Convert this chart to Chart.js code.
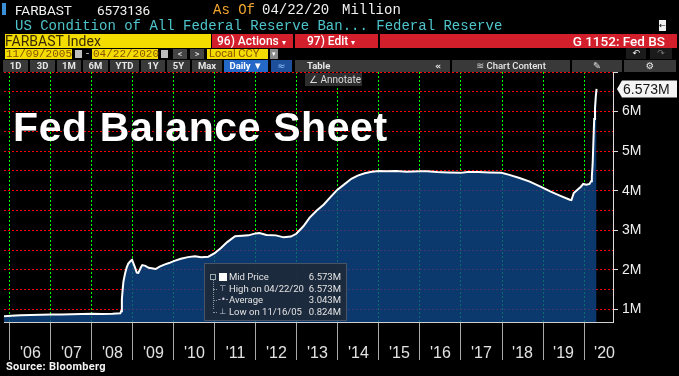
<!DOCTYPE html>
<html><head><meta charset="utf-8">
<script src="https://cdn.jsdelivr.net/npm/chart.js@4.4.1/dist/chart.umd.min.js"></script>
<style>
html,body{margin:0;padding:0;background:#000;width:679px;height:376px;overflow:hidden;}
#wrap{position:relative;width:679px;height:376px;background:#000;}
#c{position:absolute;left:0;top:0;}
.a{position:absolute;white-space:nowrap;box-sizing:border-box;}
.mono{font-family:"Liberation Mono",monospace;font-size:14px;line-height:14px;}
.sans{font-family:Roboto,"Liberation Sans",sans-serif;}
.red{background:#d21f2b;color:#fff;font-family:Roboto,sans-serif;font-size:12px;font-weight:500;line-height:14px;height:14px;top:33.5px;}
.yel{background:#f3dc00;font-family:"Liberation Mono",monospace;font-size:11px;line-height:10px;height:10px;top:49px;color:#8a5200;}
.tb{background:#393939;color:#e6e6e6;font-family:Roboto,sans-serif;font-size:9.5px;font-weight:700;line-height:12px;height:12px;top:60px;text-align:center;}
.lg{font-family:Roboto,sans-serif;font-size:9.5px;color:#e4e4e4;line-height:11px;}
</style></head>
<body><div id="wrap">
<canvas id="c" width="679" height="376"></canvas>

<div class="a" style="left:2px;top:3px;width:4px;height:12px;background:#3a8fd6"></div>
<div class="a sans" style="left:15px;top:3px;font-size:13.5px;line-height:14px;color:#f2f2f2">FARBAST</div>
<div class="a sans" style="left:97px;top:3px;font-size:13.5px;line-height:14px;color:#f2f2f2">6573136</div>
<div class="a mono" style="left:213px;top:3px;color:#f2a531">As Of</div>
<div class="a mono" style="left:262px;top:3px;color:#f2f2f2">04/22/20</div>
<div class="a mono" style="left:342px;top:3px;color:#f2f2f2">Million</div>
<div class="a mono" style="left:15px;top:19px;color:#4ec4cb">US Condition of All Federal Reserve Ban... Federal Reserve</div>
<div class="a" style="left:659px;top:20px;width:7px;height:11px;background:#f0f0f0;color:#000;font-size:8px;line-height:11px;text-align:center;font-family:'DejaVu Sans'">&#8592;</div>
<div class="a sans" style="left:5px;top:33.5px;width:206px;height:14px;background:#f3dc00;color:#3a2a00;font-size:14px;line-height:14px">FARBAST Index</div>
<div class="a red" style="left:212px;width:81px;padding-left:5px">96) Actions <span style="font-size:8px">&#9662;</span></div>
<div class="a red" style="left:295px;width:83px;padding-left:12px">97) Edit <span style="font-size:8px">&#9662;</span></div>
<div class="a red" style="left:380px;width:297px;text-align:right;padding-right:12px;font-size:13.5px">G 1152: Fed BS</div>
<div class="a yel" style="left:5px;width:67px;padding-left:1px">11/09/2005</div>
<div class="a" style="left:75px;top:50px;width:7px;height:8px;background:#bdbdbd"></div>
<div class="a sans" style="left:86px;top:47px;font-size:11px;color:#ddd">-</div>
<div class="a yel" style="left:92px;width:66px;padding-left:1px">04/22/2020</div>
<div class="a" style="left:161px;top:50px;width:7px;height:8px;background:#bdbdbd"></div>
<div class="a sans" style="left:173px;top:49px;width:14px;height:10px;background:#444;color:#eee;font-size:9px;line-height:10px;text-align:center">&lt;</div>
<div class="a sans" style="left:190px;top:49px;width:14px;height:10px;background:#444;color:#eee;font-size:9px;line-height:10px;text-align:center">&gt;</div>
<div class="a yel" style="left:207px;width:61px;padding-left:2px;font-family:Roboto,sans-serif;font-size:11px;color:#8a5200">Local CCY</div>
<div class="a sans" style="left:270px;top:49px;width:8px;height:10px;background:#8a8a8a;color:#fff;font-size:7px;line-height:10px;text-align:center">&#9662;</div>
<div class="a" style="left:626px;top:48px;width:20px;height:11px;background:#1b1b1b;color:#f2f2f2;font-family:'DejaVu Sans';font-size:9px;line-height:11px;text-align:center">&#8630;</div>
<div class="a" style="left:650px;top:48px;width:22px;height:11px;background:#1b1b1b;color:#777;font-family:'DejaVu Sans';font-size:9px;line-height:11px;text-align:center">&#8631;</div>
<div class="a tb" style="left:3px;width:25px">1D</div>
<div class="a tb" style="left:30px;width:25px">3D</div>
<div class="a tb" style="left:57px;width:24px">1M</div>
<div class="a tb" style="left:83px;width:25px">6M</div>
<div class="a tb" style="left:110px;width:29px">YTD</div>
<div class="a tb" style="left:141px;width:24px">1Y</div>
<div class="a tb" style="left:167px;width:23px">5Y</div>
<div class="a tb" style="left:192px;width:30px">Max</div>
<div class="a tb" style="left:224px;width:44px;background:#2468c8;color:#fff">Daily &#9660;</div>
<div class="a tb" style="left:271px;width:21px;background:#1d4f9a;color:#8fc0ff;font-family:'DejaVu Sans';font-weight:400">&#8776;</div>
<div class="a tb" style="left:295px;width:155px;text-align:left;padding-left:12px">Table<span style="position:absolute;left:140px;font-family:'DejaVu Sans'">&#171;</span></div>
<div class="a tb" style="left:452px;width:118px;font-weight:500"><span style="font-family:'DejaVu Sans';color:#ccc">&#8779;</span> Chart Content</div>
<div class="a tb" style="left:572px;width:50px;font-family:'DejaVu Sans';font-weight:400">&#9998;</div>
<div class="a tb" style="left:624px;width:52px;font-family:'DejaVu Sans';font-weight:400">&#9881;</div>
<div class="a sans" style="left:305px;top:73px;width:57px;height:13px;background:#2e2e2e;color:#dcdcdc;font-size:10px;line-height:13px;padding-left:4px">&#8736; Annotate</div>

<div class="a" style="left:13px;top:107px;font-family:'Liberation Sans',sans-serif;font-weight:700;font-size:41px;line-height:41px;color:#fff;letter-spacing:0.6px">Fed Balance Sheet</div>

<div id="leg" class="a" style="left:204px;top:263px;width:143px;height:58px;background:rgba(30,40,54,0.88);border:1px solid rgba(130,140,155,0.45)"></div>

<div class="a" style="left:6px;top:361px;font-family:Roboto,sans-serif;font-weight:700;font-size:11px;line-height:12px;color:#f4f4f4;letter-spacing:0.3px">Source: Bloomberg</div>
</div>

<script>
// ---- data (millions of USD) ----
const dates = ['2005-11-09','2005-11-16','2006-01-11','2006-04-05','2006-07-05','2006-10-04','2007-01-03','2007-04-04','2007-07-04','2007-10-03','2008-01-02','2008-04-02','2008-07-02','2008-09-10','2008-09-17','2008-09-24','2008-10-01','2008-10-08','2008-10-22','2008-11-05','2008-11-19','2008-12-10','2008-12-24','2009-01-14','2009-02-04','2009-02-18','2009-03-11','2009-03-25','2009-04-22','2009-05-20','2009-06-17','2009-07-22','2009-08-26','2009-10-07','2009-11-18','2009-12-30','2010-03-03','2010-05-05','2010-07-07','2010-09-01','2010-11-03','2010-12-29','2011-02-23','2011-04-20','2011-06-29','2011-08-31','2011-10-26','2011-12-28','2012-02-01','2012-04-04','2012-06-27','2012-09-05','2012-11-07','2012-12-26','2013-02-27','2013-04-24','2013-06-26','2013-08-28','2013-10-30','2013-12-25','2014-02-26','2014-04-30','2014-06-25','2014-08-27','2014-10-29','2014-12-31','2015-03-04','2015-06-03','2015-09-02','2015-12-30','2016-03-02','2016-06-01','2016-09-07','2016-12-28','2017-03-01','2017-06-07','2017-09-06','2017-12-27','2018-03-07','2018-06-06','2018-09-05','2018-12-05','2019-03-06','2019-06-05','2019-08-28','2019-09-11','2019-10-02','2019-11-06','2019-12-04','2019-12-25','2020-01-22','2020-02-19','2020-03-04','2020-03-11','2020-03-18','2020-03-25','2020-04-01','2020-04-08','2020-04-15','2020-04-22'];
const balance = [0.83,0.824,0.84,0.85,0.86,0.865,0.87,0.87,0.875,0.88,0.89,0.885,0.89,0.90,0.95,1.25,1.50,1.70,1.90,2.05,2.15,2.22,2.25,2.10,1.93,1.92,2.05,2.12,2.10,2.05,2.04,2.02,2.08,2.13,2.17,2.22,2.28,2.32,2.34,2.32,2.33,2.42,2.55,2.70,2.85,2.86,2.87,2.92,2.93,2.88,2.87,2.82,2.84,2.91,3.10,3.32,3.50,3.65,3.85,4.02,4.16,4.30,4.38,4.44,4.48,4.50,4.49,4.50,4.48,4.49,4.49,4.47,4.46,4.45,4.47,4.47,4.46,4.45,4.40,4.32,4.23,4.11,3.98,3.87,3.77,3.76,3.94,4.03,4.10,4.17,4.15,4.17,4.24,4.36,4.67,5.25,5.81,6.08,6.37,6.573];
const yearTicks = [2006,2007,2008,2009,2010,2011,2012,2013,2014,2015,2016,2017,2018,2019,2020];
const yearLabels = ["'06","'07","'08","'09","'10","'11","'12","'13","'14","'15","'16","'17","'18","'19","'20"];
const yGridValues = [1,1.5,2,2.5,3,3.5,4,4.5,5,5.5,6,6.5,7];
const yLabelValues = [1,2,3,4,5,6];
const yLabels = ['1M','2M','3M','4M','5M','6M'];
const legendLabels = ['Mid Price','High on 04/22/20','Average','Low on 11/16/05'];
const legendValues = ['6.573M','6.573M','3.043M','0.824M'];

(function(){
  const wrap = document.getElementById('wrap');
  const icons = ['','&#8868;','-&#8226;-','&#8869;'];
  legendLabels.forEach((lab,i)=>{
    const top = 271 + i*11.7;
    const l = document.createElement('div'); l.className='a lg'; l.style.left='229px'; l.style.top=top+'px'; l.textContent=lab; wrap.appendChild(l);
    const v = document.createElement('div'); v.className='a lg'; v.style.left='296px'; v.style.width='45px'; v.style.textAlign='right'; v.style.top=top+'px'; v.textContent=legendValues[i]; wrap.appendChild(v);
    if(i===0){
      const sq=document.createElement('div'); sq.className='a'; sq.style.cssText='left:219px;top:'+(top+1.5)+'px;width:8px;height:8px;background:#fff'; wrap.appendChild(sq);
      const bx=document.createElement('div'); bx.className='a'; bx.style.cssText='left:210px;top:'+(top+2.5)+'px;width:6px;height:6px;border:1px solid #9aa;'; wrap.appendChild(bx);
    } else {
      const ic=document.createElement('div'); ic.className='a lg'; ic.style.cssText='left:218px;top:'+top+'px;width:10px;text-align:center;color:#ccd;font-family:"DejaVu Sans";font-size:8px'; ic.innerHTML=icons[i]; wrap.appendChild(ic);
      const st=document.createElement('div'); st.className='a'; st.style.cssText='left:213px;top:'+(top+6)+'px;width:4px;height:0;border-top:1px dotted #8a94a0'; wrap.appendChild(st);
    }
  });
  const vl=document.createElement('div'); vl.className='a'; vl.style.cssText='left:213px;top:280px;width:0;height:29px;border-left:1px dotted #8a94a0'; wrap.appendChild(vl);
})();

function toYear(s){const p=s.split('-').map(Number);const t=Date.UTC(p[0],p[1]-1,p[2]);const a=Date.UTC(p[0],0,1),b=Date.UTC(p[0]+1,0,1);return p[0]+(t-a)/(b-a);}
const pts = dates.map((d,i)=>({x:toYear(d), y:balance[i]}));

const lastValuePlugin = {
  id:'lastValue',
  afterDraw(chart){
    const {ctx, chartArea, scales} = chart;
    const v = balance[balance.length-1];
    const py = scales.y.getPixelForValue(v);
    const x0 = chartArea.right + 4, x1 = chart.width - 2, h = 17;
    ctx.save();
    ctx.fillStyle = '#f4f4f4';
    ctx.beginPath();
    ctx.moveTo(x0, py); ctx.lineTo(x0+5, py-h/2); ctx.lineTo(x1, py-h/2); ctx.lineTo(x1, py+h/2); ctx.lineTo(x0+5, py+h/2);
    ctx.closePath(); ctx.fill();
    ctx.fillStyle = '#151515'; ctx.font = '14px "Liberation Sans"'; ctx.textBaseline = 'middle'; ctx.textAlign = 'left';
    ctx.fillText(v.toFixed(3)+'M', x0+6, py+1);
    ctx.restore();
  }
};

new Chart(document.getElementById('c'), {
  type:'line',
  data:{datasets:[{data:pts, borderColor:'#ffffff', borderWidth:2, pointRadius:0, fill:'start', backgroundColor:'rgba(14,70,136,0.8)', tension:0}]},
  options:{
    responsive:false, animation:false, devicePixelRatio:1,
    layout:{padding:{top:72,left:4,right:0,bottom:0}},
    plugins:{legend:{display:false}, tooltip:{enabled:false}},
    scales:{
      x:{type:'linear', position:'bottom', min:2005.855, max:2020.707,
        afterBuildTicks:s=>{s.ticks = yearTicks.map(v=>({value:v}));},
        afterFit:s=>{s.height=54; s.paddingLeft=0; s.paddingRight=0;},
        grid:{color:'#00ff00', lineWidth:1, tickLength:38, tickColor:'#a8a8a8'},
        border:{display:true, color:'#cfcfcf', width:1, dash:[2,2]},
        ticks:{autoSkip:false, maxRotation:0, minRotation:0, padding:-16, labelOffset:20.5, color:'#e2e2e2',
          font:{family:'Liberation Sans', size:16}, callback:(v,i)=>yearLabels[i]}
      },
      y:{type:'linear', position:'right', min:0.68, max:7.0,
        afterBuildTicks:s=>{s.ticks = yGridValues.map(v=>({value:v}));},
        afterFit:s=>{s.width=66; s.paddingTop=0; s.paddingBottom=0;},
        grid:{color:'#ff0000', lineWidth:1, tickLength:5,
          tickColor:c=>(c.tick && Number.isInteger(c.tick.value)) ? '#dcdcdc' : 'rgba(0,0,0,0)'},
        border:{display:true, color:'#dcdcdc', width:1, dash:[2,2]},
        ticks:{autoSkip:false, padding:4, color:'#f0f0f0', font:{family:'Liberation Sans', size:14},
          callback:v=>{const k=yLabelValues.indexOf(v); return k>=0?yLabels[k]:'';}}
      }
    }
  },
  plugins:[lastValuePlugin]
});
</script>
</body></html>
